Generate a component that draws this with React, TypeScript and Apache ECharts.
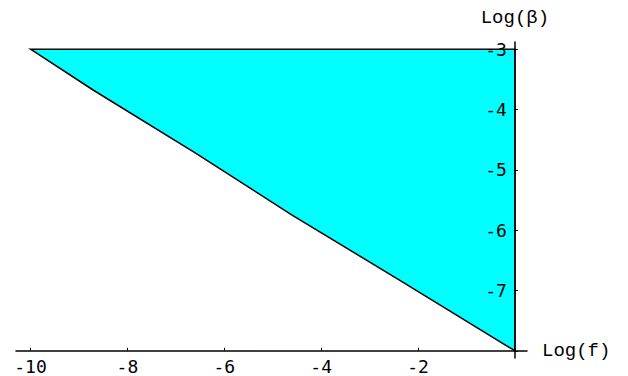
import React, { useEffect, useRef } from "react";
import * as echarts from "echarts";

// Region boundary (vertices of the shaded area)
const regionX = [-10, -8.7, -6.6, -4.6, -2.4, 0, 0];
const regionY = [-3, -3.68, -4.72, -5.75, -6.82, -8, -3];

const xTicks = [-10, -8, -6, -4, -2, 0];
const xLabels = [-10, -8, -6, -4, -2];
const yTicks = [-8, -7, -6, -5, -4, -3];
const yLabels = [-7, -6, -5, -4, -3];

const xRange = [-10.3, 0.25];
const yRange = [-8.12, -2.88];

const xName = "Log(f)";
const yName = "Log(\u03B2)";

export default function App() {
  const ref = useRef<HTMLDivElement>(null);
  useEffect(() => {
    if (!ref.current) return;
    const chart = echarts.init(ref.current, null, { renderer: "svg" });
    const W = 628, H = 376;
    const grid = { left: 16, right: 101, top: 42, bottom: 18 };
    const gw = W - grid.left - grid.right;
    const gh = H - grid.top - grid.bottom;
    const xOff = -((-8 - yRange[0]) * gh / (yRange[1] - yRange[0]));
    const yOff = -((xRange[1] - 0) * gw / (xRange[1] - xRange[0]));
    const tickFont = "'DejaVu Sans Mono', monospace";
    const nameFont = "'Liberation Mono', 'Courier New', monospace";
    chart.setOption({
      animation: false,
      backgroundColor: "#ffffff",
      grid: { ...grid, containLabel: false },
      xAxis: {
        type: "value",
        z: 10,
        min: xRange[0],
        max: xRange[1],
        position: "bottom",
        offset: xOff,
        name: xName,
        nameLocation: "end",
        nameGap: 15,
        nameTextStyle: { fontFamily: nameFont, fontSize: 19, color: "#000", verticalAlign: "middle" },
        axisLine: { show: true, lineStyle: { color: "#000", width: 1.5 } },
        axisTick: { show: true, inside: true, length: 3, customValues: xTicks, lineStyle: { color: "#000", width: 1 } },
        axisLabel: {
          customValues: xLabels,
          margin: 7,
          fontFamily: tickFont,
          fontSize: 18,
          color: "#000",
          formatter: (v: number) => String(v),
        },
        splitLine: { show: false },
      },
      yAxis: {
        type: "value",
        z: 10,
        min: yRange[0],
        max: yRange[1],
        position: "right",
        offset: yOff,
        name: yName,
        nameLocation: "end",
        nameGap: 24,
        nameTextStyle: { fontFamily: nameFont, fontSize: 19, color: "#000", align: "center", verticalAlign: "middle" },
        axisLine: { show: true, lineStyle: { color: "#000", width: 1.5 } },
        axisTick: { show: true, inside: false, length: 3, customValues: yTicks, lineStyle: { color: "#000", width: 1 } },
        axisLabel: {
          customValues: yLabels,
          inside: true,
          margin: 8,
          fontFamily: tickFont,
          fontSize: 18,
          color: "#000",
          formatter: (v: number) => String(v),
        },
        splitLine: { show: false },
      },
      series: [
        {
          type: "custom",
          z: 1,
          data: [[0]],
          renderItem: (_params: any, api: any) => {
            const points = regionX.map((x, i) => api.coord([x, regionY[i]]));
            return {
              type: "polygon",
              shape: { points },
              style: { fill: "#00ffff", stroke: "#000", lineWidth: 1.5 },
            };
          },
        },
      ],
    });
    return () => chart.dispose();
  }, []);
  return (
    <div
      ref={ref}
      style={{ position: "fixed", left: 0, top: 0, width: 628, height: 376, background: "#fff" }}
    />
  );
}
